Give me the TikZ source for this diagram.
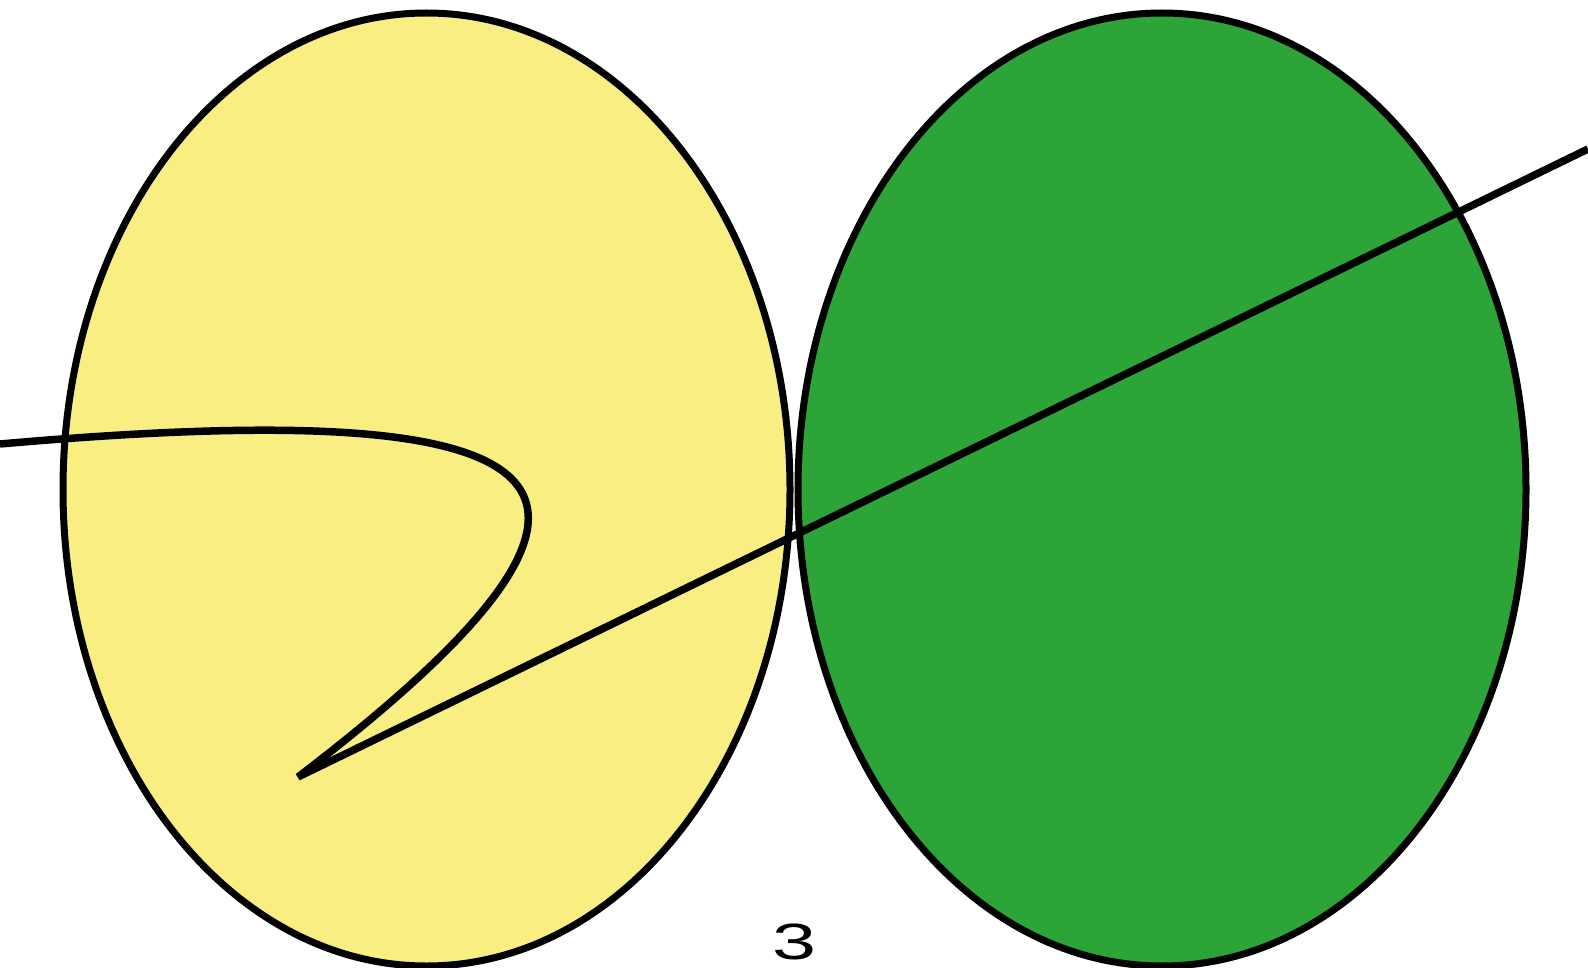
\documentclass[tikz,border=0pt]{standalone}
\usepackage{fontspec}
\setmainfont{Liberation Sans}
\definecolor{lightyellow}{RGB}{249,238,130}
\definecolor{leafgreen}{RGB}{44,164,55}
\tikzset{
  blob/.style={draw=black, line width=7pt},
  stroke/.style={draw=black, line width=7.5pt, line join=bevel},
  label/.style={inner sep=0pt, font=\fontsize{51}{60}\selectfont, xscale=1.55}
}
\begin{document}
\begin{tikzpicture}[x=1pt, y=-1pt]
  \useasboundingbox (0,0) rectangle (1588,968);
  \fill[white] (0,0) rectangle (1588,968);
  % ellipses
  \draw[blob, fill=lightyellow] (426.5,489.5) ellipse [x radius=363.5, y radius=476.5];
  \draw[blob, fill=leafgreen] (1162,489.5) ellipse [x radius=364, y radius=476.5];
  % curve and line
  \coordinate (start) at (0,444);
  \coordinate (tip) at (298,777);
  \coordinate (endR) at (1588,149);
  \draw[stroke] (start) .. controls (560,395) and (700,470) .. (tip) -- (endR);
  % label
  \node[label] (three) at (794,941.5) {3};
\end{tikzpicture}
\end{document}
